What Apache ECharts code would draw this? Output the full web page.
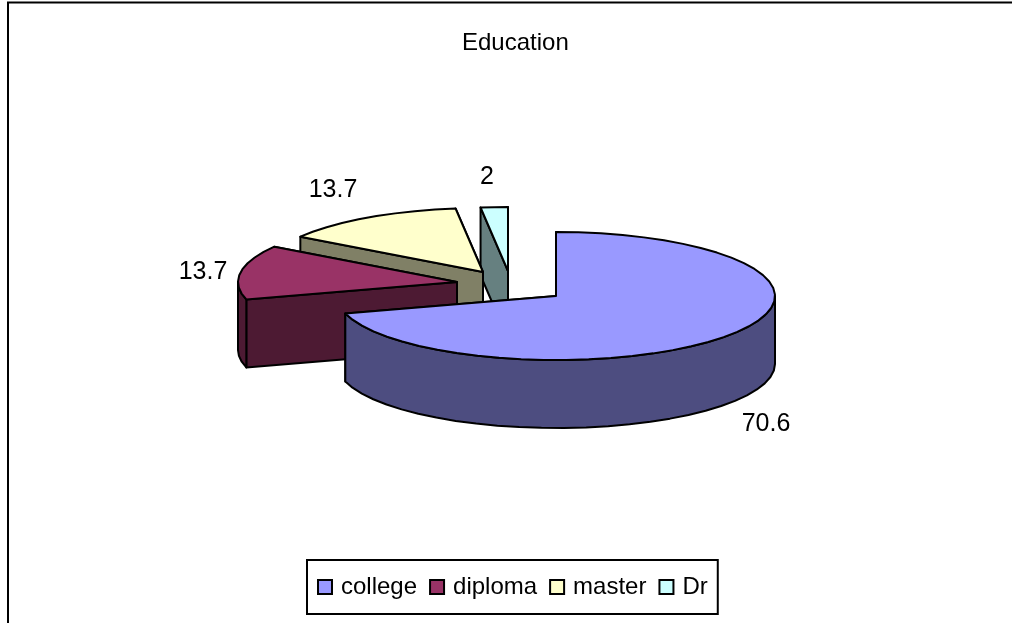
<!DOCTYPE html>
<html>
<head>
<meta charset="utf-8">
<style>html,body{margin:0;padding:0;background:#fff}#c{width:1012px;height:623px}</style>
<script src="https://cdn.jsdelivr.net/npm/echarts@6/dist/echarts.min.js"></script>
</head>
<body>
<div id="c"></div>
<script>
var categories = ['college', 'diploma', 'master', 'Dr'];
var values = [70.6, 13.7, 13.7, 2];
var topColors = ['#9999ff', '#993366', '#ffffcc', '#ccffff'];
var sideColors = ['#4d4d80', '#4d1a33', '#808066', '#668080'];
var title = 'Education';

// layout of the exploded 3D pie
var apexX = [556, 457, 483, 508];
var apexY = [296, 282, 272, 271];
var labelX = [766, 203, 333, 487];
var labelY = [424, 272, 190, 177];
var RX = 219, RY = 64, DEPTH = 68, FONT = 'Liberation Sans, Arial, sans-serif';
var total = values.reduce(function (a, b) { return a + b; }, 0);

function pt(i, deg, down) {
  var r = deg * Math.PI / 180;
  return [apexX[i] + RX * Math.sin(r), apexY[i] - RY * Math.cos(r) + (down || 0)];
}
function arc(i, a, b, down) {
  var pts = [], n = Math.max(1, Math.ceil((b - a) / 6));
  for (var k = 0; k <= n; k++) pts.push(pt(i, a + (b - a) * k / n, down));
  return pts;
}
function poly(points, fill) {
  return { type: 'polygon', shape: { points: points },
    style: { fill: fill, stroke: '#000', lineWidth: 2, lineJoin: 'round' } };
}
function renderSlice(i) {
  return function (params, api) {
    var start = 0;
    for (var k = 0; k < i; k++) start += values[k];
    var a = start / total * 360;
    var b = a + api.value(0) / total * 360;
    var ax = apexX[i], ay = apexY[i];
    var pa = pt(i, a), pb = pt(i, b);
    var kids = [];
    // flat cut faces
    kids.push(poly([[ax, ay], pb, [pb[0], pb[1] + DEPTH], [ax, ay + DEPTH]], sideColors[i]));
    kids.push(poly([[ax, ay], pa, [pa[0], pa[1] + DEPTH], [ax, ay + DEPTH]], sideColors[i]));
    // outer wall, front half only
    var wa = Math.max(a, 90), wb = Math.min(b, 270);
    if (wb > wa) {
      kids.push(poly(arc(i, wa, wb, 0).concat(arc(i, wa, wb, DEPTH).reverse()), sideColors[i]));
    }
    // top face
    kids.push(poly([[ax, ay]].concat(arc(i, a, b, 0)), topColors[i]));
    kids.push({ type: 'text', style: {
      x: labelX[i], y: labelY[i], text: String(api.value(0)), fill: '#000',
      font: '25px ' + FONT, align: 'center', verticalAlign: 'middle' } });
    return { type: 'group', children: kids };
  };
}

var series = categories.map(function (name, i) {
  return {
    type: 'custom', name: name, coordinateSystem: 'none', z: 10 - i,
    silent: true, animation: false,
    itemStyle: { color: topColors[i] },
    data: [[values[i]]],
    renderItem: renderSlice(i)
  };
});

var chart = echarts.init(document.getElementById('c'), null, { renderer: 'canvas' });
chart.setOption({
  animation: false,
  backgroundColor: '#fff',
  title: { text: title, left: 462, top: 31, padding: 0,
    textStyle: { fontFamily: FONT, fontSize: 24, fontWeight: 'normal', color: '#000' } },
  legend: {
    data: categories, left: 307, top: 560, orient: 'horizontal',
    padding: [15, 10, 15, 10], itemGap: 12, itemWidth: 14, itemHeight: 14,
    icon: 'rect', backgroundColor: '#fff', borderColor: '#000', borderWidth: 2,
    selectedMode: false,
    itemStyle: { borderColor: '#000', borderWidth: 2 },
    textStyle: { fontFamily: FONT, fontSize: 24, color: '#000', padding: [0, 0, 0, 4] }
  },
  graphic: [
    { type: 'polyline', shape: { points: [[8, 623], [8, 2.5], [1012, 2.5]] },
      style: { fill: null, stroke: '#000', lineWidth: 2 }, silent: true }
  ],
  series: series
});
</script>
</body>
</html>
